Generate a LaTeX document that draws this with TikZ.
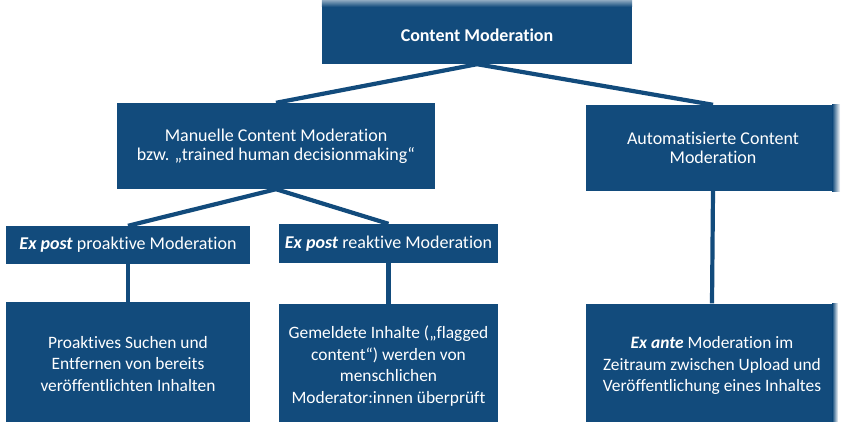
\documentclass[tikz,border=0pt]{standalone}
\usepackage{fontspec}
\setmainfont{Carlito}[Ligatures=NoCommon]
\definecolor{mblue}{RGB}{18,75,124}
\begin{document}
\begin{tikzpicture}[x=1pt,y=-1pt,
  box/.style={fill=mblue, text=white, align=center, inner sep=0pt,
    font=\fontsize{18}{19}\selectfont},
  bigbox/.style={box, font=\fontsize{17.4}{21.5}\selectfont},
  conn/.style={draw=mblue, line width=4.2pt}]
\useasboundingbox (0,0) rectangle (841,422);
\node[box, minimum width=310pt, minimum height=57pt, font=\fontsize{18}{19}\selectfont\bfseries] (top) at (477,35.5) {Content Moderation};
\node[box, minimum width=318pt, minimum height=86pt] (man) at (276,146) {Manuelle Content Moderation\\bzw. „trained human decisionmaking“};
\node[box, minimum width=254pt, minimum height=86pt] (auto) at (713,148) {Automatisierte Content\\Moderation};
\node[box, minimum width=244pt, minimum height=38pt] (pro) at (128,245) {\textbf{\textit{Ex post}} proaktive Moderation};
\node[box, minimum width=219pt, minimum height=39pt] (rea) at (388.5,243.5) {\textbf{\textit{Ex post}} reaktive Moderation};
\node[bigbox, minimum width=244pt, minimum height=124pt] (bl) at (128,364) {Proaktives Suchen und\\Entfernen von bereits\\veröffentlichten Inhalten};
\node[bigbox, minimum width=219pt, minimum height=124pt] (bm) at (388.5,366) {Gemeldete Inhalte („flagged\\content“) werden von\\menschlichen\\Moderator:innen überprüft};
\node[bigbox, minimum width=252pt, minimum height=124pt] (br) at (712,365.5) {\textbf{\textit{Ex ante}} Moderation im\\Zeitraum zwischen Upload und\\Veröffentlichung eines Inhaltes};
% top fade of the root box
\shade[top color=white, bottom color=mblue] (top.north west) rectangle ([yshift=13pt]top.north east);
% right-edge fades
\shade[left color=mblue, right color=white] ([xshift=-8pt]auto.north east) rectangle (auto.south east);
\shade[left color=mblue, right color=white] ([xshift=-6pt]br.north east) rectangle (br.south east);
% connectors
\draw[conn] (top.south) -- (man.north);
\draw[conn] (top.south) -- (auto.north);
\draw[conn] (man.south) -- (pro.north);
\draw[conn] (man.south) -- (rea.north);
\draw[conn] (pro.south) -- (bl.north);
\draw[conn] (rea.south) -- (bm.north);
\draw[conn] (auto.south) -- (br.north);
\end{tikzpicture}
\end{document}
